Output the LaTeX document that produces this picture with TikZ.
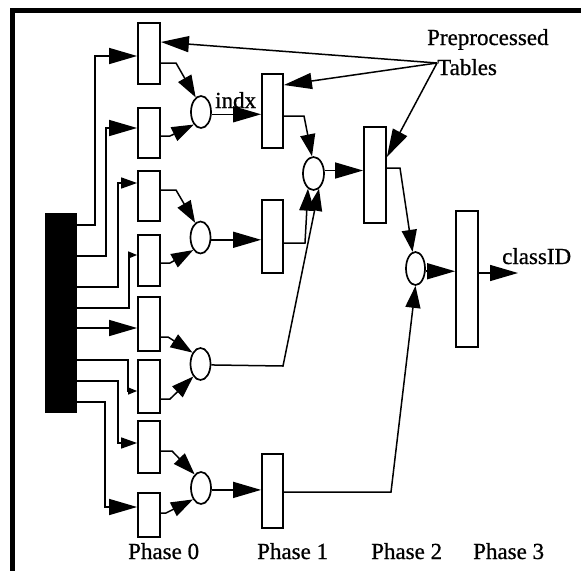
\documentclass[tikz,border=0pt]{standalone}
\usepackage{fontspec}
\setmainfont{Liberation Serif}
\newfontfamily\scanfont[FakeBold=0.8]{Liberation Serif}
\usetikzlibrary{arrows.meta,shapes.geometric}
\begin{document}
\begin{tikzpicture}[x=1pt,y=-1pt,
  box/.style={draw,line width=1.8pt,inner sep=0pt,minimum width=22pt},
  blob/.style={draw,ellipse,line width=1.7pt,inner sep=0pt,minimum width=20pt,minimum height=32pt},
  wire/.style={line width=1.5pt},
  tipbig/.style={-{Triangle[length=28pt,width=16pt]}},
  tipcirc/.style={-{Triangle[length=22pt,width=15pt]}},
  tipmid/.style={-{Triangle[length=16pt,width=11pt]}},
  tipsmall/.style={-{Triangle[length=9pt,width=7pt]}},
  lbl/.style={inner sep=0pt,anchor=base west,font=\scanfont\fontsize{23}{27}\selectfont}]
\useasboundingbox (0,0) rectangle (581,571);
% frame (top and left visible)
\fill[black] (10,8) rectangle (581,13);
\fill[black] (10,8) rectangle (15,571);
% input bar
\node[fill=black,minimum width=32pt,minimum height=200pt,inner sep=0pt] (bar) at (61,313) {};
% phase 0 tables
\node[box,minimum height=61pt] (r1) at (149,53.5) {};
\node[box,minimum height=50pt] (r2) at (149,133) {};
\node[box,minimum height=50pt] (r3) at (149,196) {};
\node[box,minimum height=51pt] (r4) at (149,260.5) {};
\node[box,minimum height=54pt] (r5) at (149,324) {};
\node[box,minimum height=53pt] (r6) at (149,386.5) {};
\node[box,minimum height=52pt] (r7) at (149,447) {};
\node[box,minimum height=44pt] (r8) at (149,515) {};
% phase 0 combiners
\node[blob] (c1) at (201,112) {};
\node[blob] (c2) at (200.5,237.5) {};
\node[blob] (c3) at (200.5,364) {};
\node[blob] (c4) at (201,488) {};
% phase 1
\node[box,minimum width=21pt,minimum height=74pt] (p1a) at (272.5,111) {};
\node[box,minimum width=21pt,minimum height=73pt] (p1b) at (272.5,236.5) {};
\node[box,minimum width=21pt,minimum height=74pt] (p1c) at (272.5,491) {};
\node[blob,minimum width=21pt,minimum height=33pt] (d1) at (313.5,173.5) {};
% phase 2
\node[box,minimum height=96pt] (p2) at (375,175) {};
\node[blob,minimum width=19pt,minimum height=33pt] (d2) at (415.5,268.5) {};
% phase 3
\node[box,minimum height=136pt] (p3) at (467,279) {};
% labels
\node[lbl] (indx) at (215,108) {indx};
\node[lbl] (prep) at (427,45) {Preprocessed};
\node[lbl] (tabl) at (437,75) {Tables};
\node[lbl] (cls) at (502,264) {classID};
\node[lbl] (ph0) at (128,559) {Phase 0};
\node[lbl] (ph1) at (257,559) {Phase 1};
\node[lbl] (ph2) at (371,559) {Phase 2};
\node[lbl] (ph3) at (473,559) {Phase 3};
% bar -> phase 0 tables
\draw[wire,tipbig] (bar.east |- 0,225) -- (95,225) -- (95,56) -- (r1.west |- 0,56);
\draw[wire,tipbig] (bar.east |- 0,256) -- (106,256) -- (106,128) -- (r2.west |- 0,128);
\draw[wire,tipmid] (bar.east |- 0,287) -- (118,287) -- (118,183) -- (r3.west |- 0,183);
\draw[wire,tipsmall] (bar.east |- 0,308) -- (129,308) -- (129,255) -- (r4.west |- 0,255);
\draw[wire,tipbig] (bar.east |- 0,328) -- (r5.west |- 0,328);
\draw[wire,tipsmall] (bar.east |- 0,360) -- (128,360) -- (128,391) -- (r6.west |- 0,391);
\draw[wire,tipmid] (bar.east |- 0,381) -- (118,381) -- (118,443) -- (r7.west |- 0,443);
\draw[wire,tipbig] (bar.east |- 0,402) -- (105,402) -- (105,507) -- (r8.west |- 0,507);
% phase 0 tables -> combiners
\draw[wire,tipcirc] (r1.east |- 0,63) -- (176,63) -- (c1.110);
\draw[wire,tipcirc] (r2.east |- 0,136) -- (170,136) -- (c1.240);
\draw[wire,tipcirc] (r3.east |- 0,190) -- (176,190) -- (c2.110);
\draw[wire,tipcirc] (r4.east |- 0,263) -- (170,263) -- (c2.240);
\draw[wire,tipcirc] (r5.east |- 0,337) -- (168,337) -- (c3.125);
\draw[wire,tipcirc] (r6.east |- 0,399) -- (170,399) -- (c3.240);
\draw[wire,tipcirc] (r7.east |- 0,451) -- (172,451) -- (c4.115);
\draw[wire,tipcirc] (r8.east |- 0,513) -- (166,513) -- (c4.235);
% combiners -> phase 1
\draw[wire,tipbig] (c1.-12) -- (p1a.west |- c1.-12);
\draw[wire,tipbig] (c2.-12) -- (p1b.west |- c2.-12);
\draw[wire,tipbig] (c4.-10) -- (p1c.west |- c4.-10);
\draw[wire,tipcirc] (c3.-5) -- (283,366) -- (d1.290);
\draw[wire,tipcirc] (p1a.east |- 0,116) -- (304,116) -- (d1.95);
\draw[wire,tipcirc] (p1b.east |- 0,243) -- (305,243) -- (d1.250);
% phase 1 -> phase 2
\draw[wire,tipbig] (d1.15) -- (p2.west |- d1.15);
\draw[wire,tipcirc] (p2.east |- 0,168) -- (400,168) -- (d2.100);
\draw[wire,tipcirc] (p1c.east |- 0,492) -- (391,492) -- (d2.270);
% phase 2 -> phase 3
\draw[wire,tipbig] (d2.-15) -- (p3.west |- d2.-15);
\coordinate (out) at (518,273);
\draw[wire,tipbig] (p3.east |- out) -- (out);
% preprocessed tables
\coordinate (ts) at (437,63);
\draw[wire,tipbig] (ts) -- (r1.east |- 0,42);
\draw[wire,tipbig] (ts) -- (p1a.east |- 0,85);
\draw[wire,tipbig] (ts) -- (p2.east |- 0,157);
\end{tikzpicture}
\end{document}
